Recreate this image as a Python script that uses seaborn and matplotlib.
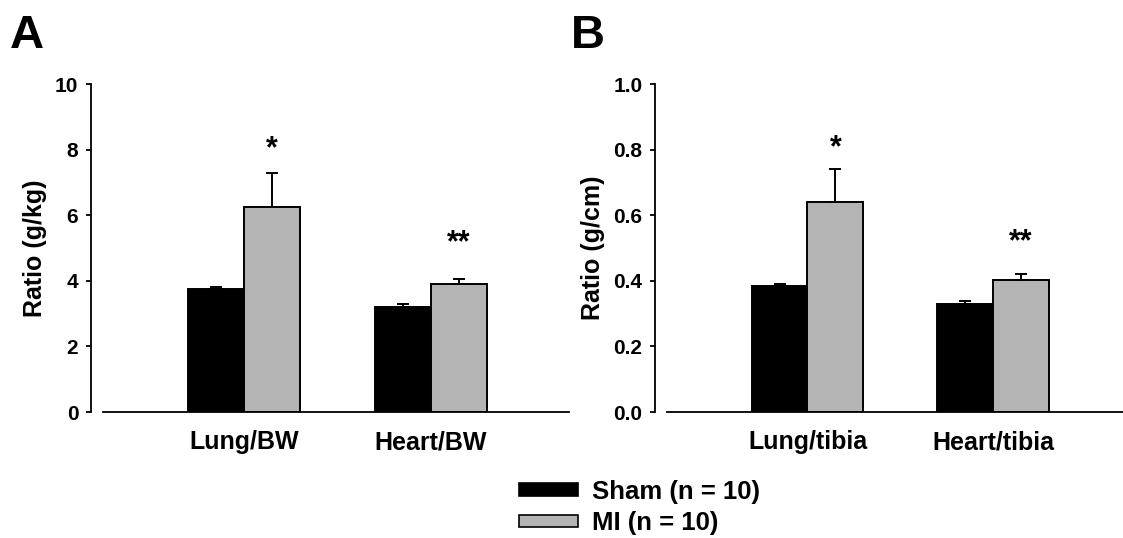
import matplotlib
matplotlib.use("Agg")
import matplotlib.pyplot as plt
from matplotlib.patches import Patch
import seaborn as sns
import pandas as pd

# ---- data ----
groups = ["Sham (n = 10)", "MI (n = 10)"]
cats_A = ["Lung/BW", "Heart/BW"]
sham_A = [3.74, 3.21]
mi_A = [6.24, 3.90]
sham_A_err = [0.07, 0.07]
mi_A_err = [1.05, 0.16]
stars_A = ["*", "**"]
star_y_A = [8.0, 5.15]

cats_B = ["Lung/tibia", "Heart/tibia"]
sham_B = [0.383, 0.330]
mi_B = [0.641, 0.403]
sham_B_err = [0.008, 0.007]
mi_B_err = [0.100, 0.018]
stars_B = ["*", "**"]
star_y_B = [0.805, 0.517]

yticks_A = [0, 2, 4, 6, 8, 10]
yticks_B = [0.0, 0.2, 0.4, 0.6, 0.8, 1.0]
ylabel_A = "Ratio (g/kg)"
ylabel_B = "Ratio (g/cm)"

colors = {"Sham (n = 10)": "black", "MI (n = 10)": "#b4b4b4"}

sns.set_theme(style="white")
plt.rcParams["font.family"] = ["Liberation Sans", "DejaVu Sans"]
plt.rcParams["font.weight"] = "bold"
plt.rcParams["text.color"] = "black"
plt.rcParams["axes.labelcolor"] = "black"
plt.rcParams["xtick.color"] = "black"
plt.rcParams["ytick.color"] = "black"

W, H = 1123, 538
fig = plt.figure(figsize=(W / 100, H / 100), dpi=100)
axA = fig.add_axes([103 / W, 1 - 412 / H, (569 - 103) / W, (412 - 84) / H])
axB = fig.add_axes([667 / W, 1 - 412 / H, (1123 - 667) / W, (412 - 84) / H])


def panel(ax, cats, sham, mi, sham_err, mi_err, stars, star_y, yticks, ylabel, fmt, xlim):
    df = pd.DataFrame({
        "cat": cats + cats,
        "group": [groups[0]] * len(cats) + [groups[1]] * len(cats),
        "val": sham + mi,
    })
    sns.barplot(data=df, x="cat", y="val", hue="group", order=cats, hue_order=groups,
                palette=colors, edgecolor="black", linewidth=1.4, width=0.60,
                errorbar=None, legend=False, ax=ax, saturation=1)
    errs = [sham_err, mi_err]
    conts = list(ax.containers)
    for gi, cont in enumerate(conts):
        xs = [b.get_x() + b.get_width() / 2 for b in cont]
        ys = [b.get_height() for b in cont]
        ax.errorbar(xs, ys, yerr=[[0] * len(ys), errs[gi]], fmt="none",
                    ecolor="black", elinewidth=1.4, capsize=4, capthick=1.4, zorder=3)
        if gi == 1:
            for x, sy, s in zip(xs, star_y, stars):
                ax.text(x, sy, s, ha="center", va="center",
                        fontsize=22, fontweight="bold", color="black")
    ax.set_xlim(*xlim)
    ax.set_ylim(yticks[0], yticks[-1])
    ax.set_yticks(yticks)
    ax.set_yticklabels([fmt.format(t) for t in yticks])
    ax.set_xticks(range(len(cats)))
    ax.set_xticklabels(cats)
    ax.set_xlabel("")
    ax.set_ylabel(ylabel, fontsize=18, fontweight="bold", labelpad=6)
    for s in ["top", "right"]:
        ax.spines[s].set_visible(False)
    ax.spines["left"].set_position(("outward", 8.3))
    for s in ["left", "bottom"]:
        ax.spines[s].set_color("black")
        ax.spines[s].set_linewidth(1.3)
    ax.tick_params(axis="y", left=True, length=3.5, width=1.3, color="black", pad=6,
                   labelsize=15)
    ax.tick_params(axis="x", bottom=False, length=0, pad=13, labelsize=18)
    for lab in ax.get_xticklabels() + ax.get_yticklabels():
        lab.set_fontweight("bold")
    ax.set_facecolor("white")


panel(axA, cats_A, sham_A, mi_A, sham_A_err, mi_A_err, stars_A, star_y_A, yticks_A,
      ylabel_A, "{:d}", (-0.754, 1.738))
panel(axB, cats_B, sham_B, mi_B, sham_B_err, mi_B_err, stars_B, star_y_B, yticks_B,
      ylabel_B, "{:.1f}", (-0.757, 1.70))

fig.text(10 / W, 1 - 47.5 / H, "A", fontsize=34, fontweight="bold", va="baseline", ha="left")
fig.text(571 / W, 1 - 47.5 / H, "B", fontsize=34, fontweight="bold", va="baseline", ha="left")

handles = [Patch(facecolor=colors[g], edgecolor="black", linewidth=1.2) for g in groups]
fig.legend(handles, groups, loc="center left", bbox_to_anchor=(519 / W, 1 - 507.6 / H),
           frameon=False, prop={"size": 18.5, "weight": "bold"}, borderpad=0,
           borderaxespad=0, handlelength=2.3, handleheight=0.36, handletextpad=0.55,
           labelspacing=0.3)

fig.savefig("out.png", dpi=100, facecolor="white")
